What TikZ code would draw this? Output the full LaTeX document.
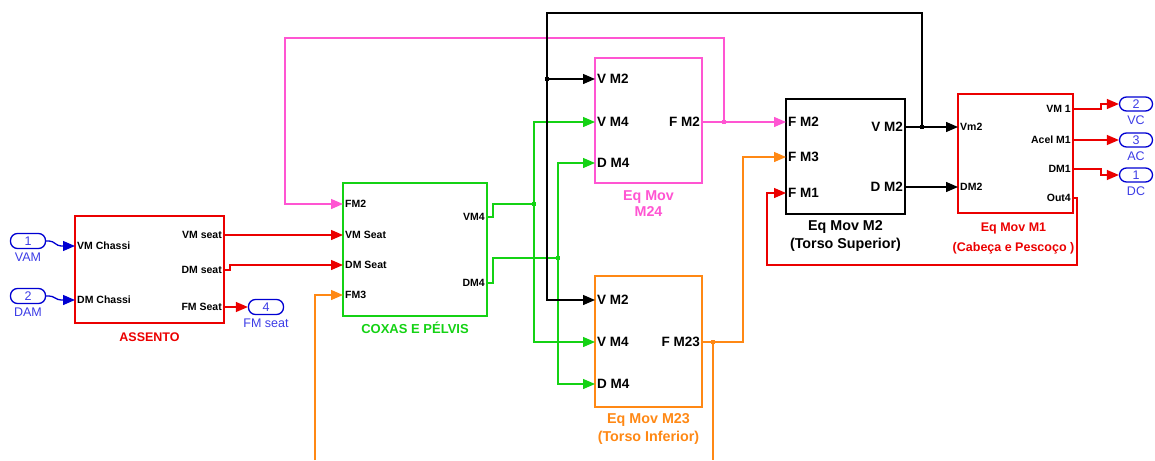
\documentclass[tikz,border=0pt]{standalone}
\usepackage{fontspec}
\setmainfont{Liberation Sans}
\usetikzlibrary{positioning}
\usetikzlibrary{calc}
\usetikzlibrary{arrows.meta}
\definecolor{sred}{RGB}{235,0,0}
\definecolor{sgreen}{RGB}{20,210,20}
\definecolor{spink}{RGB}{255,85,210}
\definecolor{sorange}{RGB}{255,136,20}
\definecolor{sblue}{RGB}{0,0,210}
\definecolor{lblue}{RGB}{60,60,230}

\begin{document}
\begin{tikzpicture}[x=1pt,y=-1pt,
  blk/.style={draw, line width=1.5pt, inner sep=0pt},
  sport/.style={inner sep=2pt, font=\fontsize{10.5}{11}\selectfont\bfseries},
  bport/.style={inner sep=2pt, font=\fontsize{13.5}{14}\selectfont\bfseries},
  blabel/.style={inner sep=1pt, align=center, font=\fontsize{13}{17}\selectfont\bfseries},
  eqlabel/.style={blabel, font=\fontsize{14.3}{17.5}\selectfont\bfseries},
  ioport/.style={draw=sblue, line width=1.3pt, rounded corners=7pt, minimum width=35pt,
    minimum height=15pt, inner sep=0pt, text=lblue, font=\fontsize{12.5}{13}\selectfont},
  iolabel/.style={inner sep=0pt, text=lblue, font=\fontsize{12.5}{13}\selectfont},
  line/.style={line width=1.3pt},
  sig/.style={line width=1.3pt, -{Triangle[length=12pt,width=10pt]}},
  dot/.style={rectangle, fill, inner sep=0pt, minimum size=4pt}]

\useasboundingbox (0,0) rectangle (1155,460);

%---------------------------------------
% Inports / outports
%---------------------------------------
\node[ioport] (inVAM) at (28,241) {1};
\node[iolabel, below=4pt of inVAM] (lbVAM) {VAM};
\node[ioport] (inDAM) at (28,296) {2};
\node[iolabel, below=4pt of inDAM] (lbDAM) {DAM};

\node[ioport] (outFM) at (266,307) {4};
\node[iolabel, below=4pt of outFM] (lbFM) {FM seat};

\node[ioport, minimum width=33pt, minimum height=14pt] (outVC) at (1136,104) {2};
\node[iolabel, below=4pt of outVC] (lbVC) {VC};
\node[ioport, minimum width=33pt, minimum height=14pt] (outAC) at (1136,140) {3};
\node[iolabel, below=4pt of outAC] (lbAC) {AC};
\node[ioport, minimum width=33pt, minimum height=14pt] (outDC) at (1136,175) {1};
\node[iolabel, below=4pt of outDC] (lbDC) {DC};

%---------------------------------------
% ASSENTO
%---------------------------------------
\node[blk, draw=sred, minimum width=149pt, minimum height=107pt] (assento) at (149.5,269.5) {};
\node[blabel, text=sred, below=8pt of assento, font=\fontsize{12.5}{15}\selectfont\bfseries] (lbAssento) {ASSENTO};
\node[sport, anchor=west] (asVMc) at (75,246) {VM Chassi};
\node[sport, anchor=west] (asDMc) at (75,300) {DM Chassi};
\node[sport, anchor=east] (asVMs) at (224,235) {VM seat};
\node[sport, anchor=east] (asDMs) at (224,270) {DM seat};
\node[sport, anchor=east] (asFMs) at (224,307) {FM Seat};

%---------------------------------------
% COXAS E PELVIS
%---------------------------------------
\node[blk, draw=sgreen, minimum width=144pt, minimum height=133pt] (coxas) at (415,249.5) {};
\node[blabel, text=sgreen, below=4pt of coxas] (lbCoxas) {COXAS E PÉLVIS};
\node[sport, anchor=west] (cxFM2) at (343,204) {FM2};
\node[sport, anchor=west] (cxVMs) at (343,235) {VM Seat};
\node[sport, anchor=west] (cxDMs) at (343,265) {DM Seat};
\node[sport, anchor=west] (cxFM3) at (343,295) {FM3};
\node[sport, anchor=east] (cxVM4) at (487,217) {VM4};
\node[sport, anchor=east] (cxDM4) at (487,283) {DM4};

%---------------------------------------
% Eq Mov M24
%---------------------------------------
\node[blk, draw=spink, minimum width=107pt, minimum height=125pt] (m24) at (648.5,120.5) {};
\node[eqlabel, text=spink, below=6pt of m24, font=\fontsize{14.3}{16}\selectfont\bfseries] (lbM24) {Eq Mov\\M24};
\node[bport, anchor=west] (m24VM2) at (595,79) {V M2};
\node[bport, anchor=west] (m24VM4) at (595,122) {V M4};
\node[bport, anchor=west] (m24DM4) at (595,163) {D M4};
\node[bport, anchor=east] (m24FM2) at (702,122) {F M2};

%---------------------------------------
% Eq Mov M23 (Torso Inferior)
%---------------------------------------
\node[blk, draw=sorange, minimum width=107pt, minimum height=131pt] (m23) at (648.5,341.5) {};
\node[eqlabel, text=sorange, below=5pt of m23] (lbM23) {Eq Mov M23\\(Torso Inferior)};
\node[bport, anchor=west] (m23VM2) at (595,300) {V M2};
\node[bport, anchor=west] (m23VM4) at (595,342) {V M4};
\node[bport, anchor=west] (m23DM4) at (595,384) {D M4};
\node[bport, anchor=east] (m23FM23) at (702,342) {F M23};

%---------------------------------------
% Eq Mov M2 (Torso Superior)
%---------------------------------------
\node[blk, draw=black, minimum width=119pt, minimum height=115pt] (m2) at (845.5,156.5) {};
\node[eqlabel, below=5pt of m2] (lbM2) {Eq Mov M2\\(Torso Superior)};
\node[bport, anchor=west] (m2FM2) at (786,122) {F M2};
\node[bport, anchor=west] (m2FM3) at (786,157) {F M3};
\node[bport, anchor=west] (m2FM1) at (786,193) {F M1};
\node[bport, anchor=east] (m2VM2) at (905,127) {V M2};
\node[bport, anchor=east] (m2DM2) at (905,187) {D M2};

%---------------------------------------
% Eq Mov M1 (Cabeca e Pescoco)
%---------------------------------------
\node[blk, draw=sred, minimum width=115pt, minimum height=119pt] (m1) at (1015.5,153.5) {};
\node[blabel, text=sred, below=8pt of m1, xshift=-2pt, font=\fontsize{12.5}{20}\selectfont\bfseries] (lbM1) {Eq Mov M1\\(Cabeça e Pescoço )};
\node[sport, anchor=west] (m1Vm2) at (958,127) {Vm2};
\node[sport, anchor=west] (m1DM2) at (958,187) {DM2};
\node[sport, anchor=east] (m1VM1) at (1073,109) {VM 1};
\node[sport, anchor=east] (m1Acel) at (1073,140) {Acel M1};
\node[sport, anchor=east] (m1DM1) at (1073,169) {DM1};
\node[sport, anchor=east] (m1Out4) at (1073,198) {Out4};

%---------------------------------------
% Branch points
%---------------------------------------
\coordinate (jVM4) at (534,204);
\coordinate (jDM4) at (558,258);
\coordinate (jFM2) at (724,122);
\coordinate (jFM23) at (713,342);
\coordinate (jVM2) at (922,127);
\coordinate (jBus) at (547,79);
\coordinate (pinkTop) at (285,38);
\coordinate (blackTop) at (547,13);
\coordinate (loopA) at (713,460);
\coordinate (loopB) at (315,460);
\coordinate (fbM1) at (767,265);

% inports -> ASSENTO
\draw[sig, sblue] (inVAM.east) -- ++(3,0) to[out=0,in=180] ++(12,5) -- (asVMc.west);
\draw[sig, sblue] (inDAM.east) -- ++(3,0) to[out=0,in=180] ++(12,4) -- (asDMc.west);

% ASSENTO -> COXAS
\draw[sig, sred] (asVMs.east) -- (cxVMs.west);
\draw[sig, sred] (asDMs.east) -- ++(6,0) |- (cxDMs.west);
\draw[sig, sred] (asFMs.east) -- (outFM.west);

% COXAS -> M24, M23
\draw[line, sgreen] (cxVM4.east) -- ++(6,0) |- (jVM4);
\draw[sig, sgreen] (jVM4) |- (m24VM4.west);
\draw[sig, sgreen] (jVM4) |- (m23VM4.west);
\draw[line, sgreen] (cxDM4.east) -- ++(6,0) |- (jDM4);
\draw[sig, sgreen] (jDM4) |- (m24DM4.west);
\draw[sig, sgreen] (jDM4) |- (m23DM4.west);
\node[dot, sgreen] (dVM4) at (jVM4) {};
\node[dot, sgreen] (dDM4) at (jDM4) {};

% M24 -> M2, feedback to COXAS
\draw[line, spink] (m24FM2.east) -- (jFM2);
\draw[sig, spink] (jFM2) -- (m2FM2.west);
\draw[sig, spink] (jFM2) |- (pinkTop) |- (cxFM2.west);
\node[dot, spink] (dFM2) at (jFM2) {};

% M23 -> M2, loop down to COXAS
\draw[line, sorange] (m23FM23.east) -- (jFM23);
\draw[sig, sorange] (jFM23) -- ++(30,0) |- (m2FM3.west);
\draw[line, sorange] (jFM23) -- (loopA);
\draw[sig, sorange] (loopB) |- (cxFM3.west);
\node[dot, sorange] (dFM23) at (jFM23) {};

% M2 -> M1, V M2 bus back to M24, M23
\draw[line] (m2VM2.east) -- (jVM2);
\draw[sig] (jVM2) -- (m1Vm2.west);
\draw[line] (jVM2) |- (blackTop) -- (jBus);
\draw[sig] (jBus) -- (m24VM2.west);
\draw[sig] (jBus) |- (m23VM2.west);
\draw[sig] (m2DM2.east) -- (m1DM2.west);
\node[dot] (dVM2) at (jVM2) {};
\node[dot] (dBus) at (jBus) {};

% M1 -> outports, Out4 back to M2
\draw[sig, sred] (m1VM1.east) -- ++(28,0) |- (outVC.west);
\draw[sig, sred] (m1Acel.east) -- (outAC.west);
\draw[sig, sred] (m1DM1.east) -- ++(28,0) |- (outDC.west);
\draw[sig, sred] (m1Out4.east) -- ++(4,0) |- (fbM1) |- (m2FM1.west);

\end{tikzpicture}
\end{document}
